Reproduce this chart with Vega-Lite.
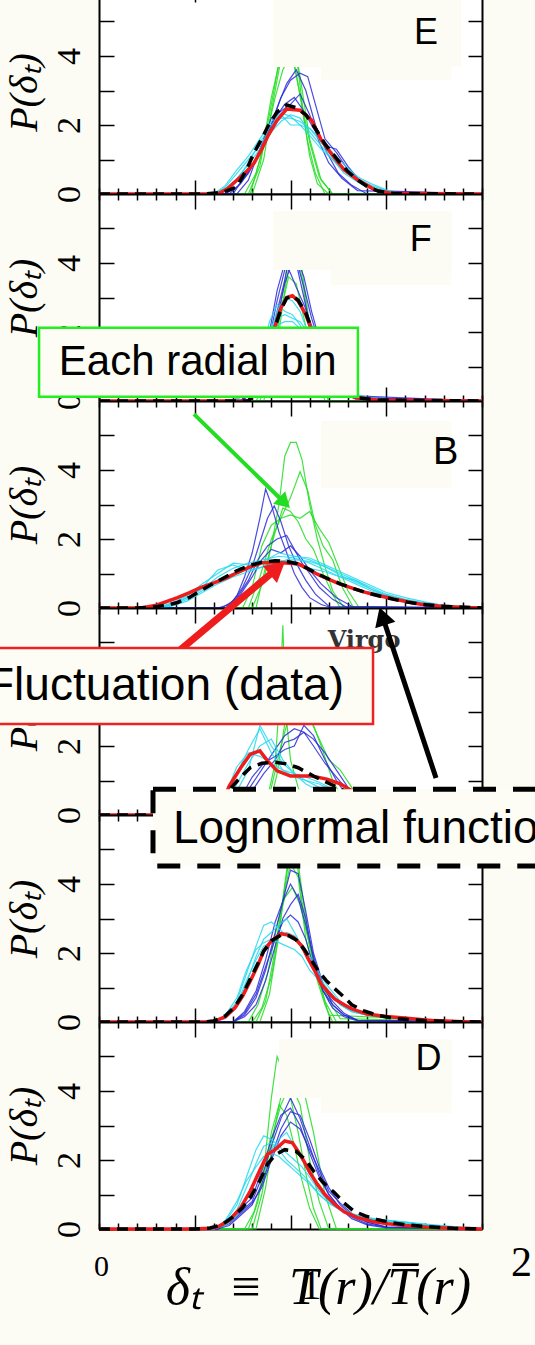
{
"$schema": "https://vega.github.io/schema/vega-lite/v6.json",
"background": "#fcfcf4",
"padding": {"left": -26, "top": -14, "right": 0, "bottom": 32},
"config": {
  "font": "Liberation Sans",
  "view": {"stroke": null, "fill": "#ffffff"},
  "axis": {"domainColor": "black", "domainWidth": 2, "tickColor": "black", "tickWidth": 1.5, "grid": false, "labelColor": "black", "titleColor": "black"}
},
"datasets": {
"curves": [
{"p":"E","k":"g","s":"g1","x":[0,0.78,0.84,0.88,0.92,0.95,0.98,1.01,1.04,1.07,1.1,1.14,1.2,2],"y":[0,0,0.8,2,3.2,4.2,4.8,4.6,3.6,2.2,1.1,0.3,0,0]},
{"p":"E","k":"g","s":"g2","x":[0,0.8,0.86,0.9,0.94,0.97,1,1.03,1.06,1.09,1.13,1.18,2],"y":[0,0,1,2.4,3.6,4.4,4.3,3.5,2.5,1.5,0.6,0,0]},
{"p":"E","k":"g","s":"g3","x":[0,0.76,0.82,0.87,0.92,0.96,0.99,1.02,1.06,1.1,1.15,1.22,2],"y":[0,0,0.6,1.6,2.8,3.6,3.9,3.7,2.6,1.5,0.5,0,0]},
{"p":"E","k":"g","s":"g4","x":[0,0.79,0.85,0.9,0.95,1,1.05,1.1,1.16,1.22,2],"y":[0,0,1.2,2.8,4,5,3.4,1.6,0.4,0,0]},
{"p":"E","k":"b","s":"b1","x":[0,0.66,0.72,0.78,0.84,0.9,0.95,1,1.05,1.09,1.13,1.18,1.24,1.3,1.38,1.46,2],"y":[0,0,0.2,0.6,1.2,2,2.8,3.3,3.5,3.4,2.6,1.6,1.2,0.7,0.3,0.05,0]},
{"p":"E","k":"b","s":"b2","x":[0,0.68,0.74,0.8,0.86,0.92,0.97,1.02,1.07,1.12,1.18,1.24,1.3,1.36,1.44,2],"y":[0,0,0.3,0.8,1.5,2.2,2.6,2.8,2.4,1.9,1.4,1.3,0.8,0.4,0.1,0]},
{"p":"E","k":"b","s":"b3","x":[0,0.7,0.76,0.82,0.88,0.93,0.98,1.03,1.08,1.13,1.19,1.25,1.32,1.4,2],"y":[0,0,0.5,1,1.7,2.5,3.2,3.6,3,2,1.2,0.6,0.25,0,0]},
{"p":"E","k":"b","s":"b4","x":[0,0.72,0.78,0.84,0.9,0.95,1,1.05,1.1,1.15,1.2,1.27,1.35,2],"y":[0,0,0.4,1.3,2.2,2.4,2.6,2.9,2.3,1.5,0.9,0.45,0.1,0]},
{"p":"E","k":"c","s":"c1","x":[0,0.6,0.66,0.72,0.78,0.84,0.9,0.95,1,1.05,1.1,1.16,1.22,1.28,1.35,1.42,1.5,1.58,2],"y":[0,0,0.2,0.6,1,1.4,1.9,2.2,2.2,2.1,1.9,1.5,1.1,0.75,0.45,0.25,0.1,0,0]},
{"p":"E","k":"c","s":"c2","x":[0,0.6,0.66,0.72,0.78,0.84,0.9,0.95,1,1.05,1.1,1.16,1.22,1.28,1.35,1.42,1.5,1.58,2],"y":[0,0,0.15,0.45,0.85,1.3,1.8,2.1,2.3,2.2,1.8,1.4,1,0.7,0.4,0.2,0.08,0,0]},
{"p":"E","k":"c","s":"c3","x":[0,0.6,0.66,0.72,0.78,0.84,0.9,0.95,1,1.05,1.1,1.16,1.22,1.28,1.35,1.42,1.5,1.58,2],"y":[0,0,0.25,0.7,1.1,1.6,2.1,2.35,2.25,2,1.7,1.3,1,0.6,0.35,0.15,0.05,0,0]},
{"p":"E","k":"c","s":"c4","x":[0,0.6,0.66,0.72,0.78,0.84,0.9,0.95,1,1.05,1.1,1.16,1.22,1.28,1.35,1.42,1.5,1.58,2],"y":[0,0,0.1,0.4,0.9,1.5,2,2.3,2,2,1.9,1.6,1.2,0.85,0.5,0.3,0.12,0,0]},
{"p":"E","k":"r","s":"r","x":[0,0.55,0.62,0.67,0.72,0.77,0.81,0.85,0.88,0.93,0.98,1.05,1.11,1.16,1.21,1.28,1.35,1.44,1.52,2],"y":[0,0,0,0.15,0.4,0.65,0.9,1.3,1.66,2.14,2.46,2.43,2.14,1.57,1.19,0.7,0.41,0.12,0.02,0]},
{"p":"E","k":"k","s":"k","x":[0,0.55,0.65,0.72,0.77,0.81,0.85,0.88,0.93,0.98,1.03,1.08,1.13,1.18,1.25,1.3,1.35,1.4,1.46,1.55,2],"y":[0,0,0.05,0.21,0.7,1.2,1.6,1.94,2.38,2.58,2.5,2.3,1.9,1.45,0.97,0.65,0.41,0.22,0.08,0.01,0]},

{"p":"F","k":"g","s":"g1","x":[0,0.84,0.88,0.92,0.95,0.98,1.01,1.04,1.07,1.1,1.14,1.18,2],"y":[0,0,0.6,1.6,2.8,3.8,4.4,4.2,3.2,2,0.8,0,0]},
{"p":"F","k":"g","s":"g2","x":[0,0.86,0.9,0.94,0.97,1,1.03,1.06,1.09,1.12,1.16,1.2,2],"y":[0,0,0.8,2,3.2,4.2,4.6,3.8,2.6,1.6,0.6,0,0]},
{"p":"F","k":"g","s":"g3","x":[0,0.82,0.87,0.91,0.95,0.99,1.03,1.07,1.11,1.15,1.2,2],"y":[0,0,0.5,1.4,2.6,3.6,3.4,2.4,1.4,0.6,0,0]},
{"p":"F","k":"b","s":"b1","x":[0,0.74,0.8,0.85,0.89,0.93,0.97,1,1.03,1.07,1.11,1.15,1.2,1.26,1.34,2],"y":[0,0,0.3,0.9,1.8,2.9,3.8,4.2,4,3,2,1.4,0.8,0.3,0.05,0]},
{"p":"F","k":"b","s":"b2","x":[0,0.74,0.8,0.85,0.89,0.93,0.97,1,1.03,1.07,1.11,1.15,1.2,1.26,1.34,2],"y":[0,0,0.2,0.7,1.5,2.4,3.4,3.9,4.2,3.6,2.6,1.8,1,0.4,0.1,0]},
{"p":"F","k":"b","s":"b3","x":[0,0.74,0.8,0.85,0.89,0.93,0.97,1,1.03,1.07,1.11,1.15,1.2,1.26,1.34,2],"y":[0,0,0.4,1.1,2,3.2,4,3.7,3.3,2.8,2.2,1.6,1,0.5,0.1,0]},
{"p":"F","k":"b","s":"b4","x":[0,0.74,0.8,0.85,0.89,0.93,0.97,1,1.03,1.07,1.11,1.15,1.2,1.26,1.34,2],"y":[0,0,0.25,0.8,1.6,2.6,3.5,4.4,4.1,3.3,2.4,1.7,1.2,0.6,0.15,0]},
{"p":"F","k":"c","s":"c1","x":[0,0.7,0.76,0.81,0.85,0.89,0.93,0.97,1.01,1.05,1.09,1.13,1.18,1.24,1.3,1.4,1.5,2],"y":[0,0,0.3,0.8,1.5,2.1,2.4,2.5,2.4,2.3,2,1.5,1,0.5,0.25,0.1,0.04,0]},
{"p":"F","k":"c","s":"c2","x":[0,0.7,0.76,0.81,0.85,0.89,0.93,0.97,1.01,1.05,1.09,1.13,1.18,1.24,1.3,1.4,1.5,2],"y":[0,0,0.2,0.7,1.3,2.3,2.8,2.6,2.5,2.2,1.8,1.3,0.8,0.45,0.2,0.08,0.03,0]},
{"p":"F","k":"c","s":"c3","x":[0,0.7,0.76,0.81,0.85,0.89,0.93,0.97,1.01,1.05,1.09,1.13,1.18,1.24,1.3,1.4,1.5,2],"y":[0,0,0.4,1,1.7,2,2.2,2.3,2.3,2.1,1.7,1.2,0.9,0.5,0.25,0.1,0.05,0]},
{"p":"F","k":"c","s":"c4","x":[0,0.7,0.76,0.81,0.85,0.89,0.93,0.97,1.01,1.05,1.09,1.13,1.18,1.24,1.3,1.4,1.5,2],"y":[0,0,0.15,0.6,1.2,1.9,2.6,3,2.9,2.6,2,1.4,0.9,0.4,0.2,0.08,0.02,0]},
{"p":"F","k":"r","s":"r","x":[0,0.78,0.83,0.87,0.91,0.95,0.98,1.01,1.04,1.08,1.12,1.16,1.2,1.26,1.34,1.45,2],"y":[0,0,0.3,1,2,2.7,3,3.05,2.9,2.5,1.9,1.2,0.6,0.25,0.1,0.03,0]},
{"p":"F","k":"k","s":"k","x":[0,0.78,0.83,0.87,0.91,0.95,0.98,1.01,1.04,1.08,1.12,1.16,1.2,1.26,1.34,1.45,2],"y":[0,0,0.35,1.05,2,2.65,2.98,3.05,2.92,2.55,1.95,1.25,0.65,0.28,0.1,0.03,0]},

{"p":"B","k":"g","s":"g1","x":[0,0.8,0.86,0.9,0.94,0.97,1,1.03,1.06,1.1,1.14,1.18,1.22,1.28,2],"y":[0,0,0.8,1.8,3,4.4,4.8,4.8,4.3,3,2,1.2,0.5,0,0]},
{"p":"B","k":"g","s":"g2","x":[0,0.78,0.84,0.9,0.95,1,1.05,1.09,1.13,1.17,1.22,1.27,1.33,2],"y":[0,0,0.9,2,2.6,3.2,3.95,3.4,2.4,1.8,1.4,0.6,0,0]},
{"p":"B","k":"g","s":"g3","x":[0,0.75,0.8,0.85,0.9,0.95,1,1.05,1.1,1.15,1.2,1.25,1.3,1.36,2],"y":[0,0,0.6,1.8,2.4,2.6,2.7,2.6,2.8,2.3,1.9,1.2,0.5,0,0]},
{"p":"B","k":"g","s":"g4","x":[0,0.82,0.87,0.92,0.96,1,1.04,1.08,1.12,1.17,1.22,1.26,2],"y":[0,0,1.2,2.2,2.9,2.8,2.5,2,1.7,1,0.4,0,0]},
{"p":"B","k":"b","s":"b1","x":[0,0.62,0.68,0.72,0.76,0.8,0.84,0.87,0.9,0.94,0.98,1.02,1.06,1.1,1.16,1.22,2],"y":[0,0,0.1,0.35,0.9,1.6,2.6,3.45,3,2.2,1.6,1,0.6,0.3,0.1,0,0]},
{"p":"B","k":"b","s":"b2","x":[0,0.64,0.7,0.75,0.8,0.84,0.88,0.915,0.95,0.99,1.03,1.08,1.13,1.2,2],"y":[0,0,0.2,0.6,1.2,1.9,2.6,2.96,2.5,1.8,1.3,0.8,0.4,0.05,0]},
{"p":"B","k":"b","s":"b3","x":[0,0.66,0.72,0.78,0.83,0.88,0.93,0.98,1.02,1.06,1.1,1.15,1.22,1.3,2],"y":[0,0,0.3,0.8,1.4,1.8,2,2.1,1.7,1.3,1,0.6,0.25,0,0]},
{"p":"B","k":"b","s":"b4","x":[0,0.68,0.74,0.8,0.85,0.9,0.95,1,1.05,1.1,1.16,1.24,1.32,2],"y":[0,0,0.4,0.9,1.4,1.7,1.6,1.8,1.5,1.1,0.7,0.3,0.05,0]},
{"p":"B","k":"c","s":"c1","x":[0,0.3,0.38,0.46,0.54,0.62,0.7,0.78,0.86,0.94,1.02,1.1,1.18,1.26,1.34,1.42,1.5,1.6,1.7,1.8,1.9,2],"y":[0,0,0.1,0.3,0.55,0.9,1.15,1.3,1.4,1.5,1.45,1.3,1.1,0.9,0.7,0.5,0.35,0.2,0.1,0.05,0,0]},
{"p":"B","k":"c","s":"c2","x":[0,0.3,0.38,0.46,0.54,0.62,0.7,0.78,0.86,0.94,1.02,1.1,1.18,1.26,1.34,1.42,1.5,1.6,1.7,1.8,1.9,2],"y":[0,0,0.15,0.35,0.7,1,1.3,1.25,1.35,1.6,1.5,1.4,1.2,0.95,0.75,0.55,0.35,0.22,0.12,0.05,0.02,0]},
{"p":"B","k":"c","s":"c3","x":[0,0.3,0.38,0.46,0.54,0.62,0.7,0.78,0.86,0.94,1.02,1.1,1.18,1.26,1.34,1.42,1.5,1.6,1.7,1.8,1.9,2],"y":[0,0,0.08,0.25,0.5,0.8,1,1.2,1.3,1.35,1.4,1.35,1.2,1,0.8,0.6,0.4,0.25,0.15,0.08,0.03,0]},
{"p":"B","k":"c","s":"c4","x":[0,0.3,0.38,0.46,0.54,0.62,0.7,0.78,0.86,0.94,1.02,1.1,1.18,1.26,1.34,1.42,1.5,1.6,1.7,1.8,1.9,2],"y":[0,0,0.12,0.3,0.6,1.1,1.25,1.1,1.2,1.4,1.25,1.15,1.05,0.9,0.8,0.55,0.38,0.24,0.12,0.06,0.02,0]},
{"p":"B","k":"c","s":"c5","x":[0,0.3,0.38,0.46,0.54,0.62,0.7,0.78,0.86,0.94,1.02,1.1,1.18,1.26,1.34,1.42,1.5,1.6,1.7,1.8,1.9,2],"y":[0,0,0.05,0.2,0.45,0.7,0.9,1.05,1.2,1.3,1.5,1.45,1.25,1.05,0.85,0.65,0.45,0.3,0.18,0.08,0.03,0]},
{"p":"B","k":"r","s":"r","x":[0,0.18,0.22,0.3,0.41,0.47,0.53,0.6,0.67,0.72,0.78,0.85,0.95,1.04,1.09,1.14,1.2,1.26,1.33,1.4,1.47,1.54,1.61,1.68,1.77,1.86,1.95,2],"y":[0,0,0,0.08,0.3,0.44,0.59,0.73,0.88,1.02,1.17,1.31,1.31,1.28,1.14,0.98,0.83,0.69,0.56,0.44,0.35,0.26,0.18,0.11,0.06,0.03,0.01,0]},
{"p":"B","k":"k","s":"k","x":[0,0.2,0.3,0.36,0.41,0.47,0.53,0.6,0.67,0.72,0.78,0.85,0.92,0.98,1.04,1.09,1.14,1.2,1.26,1.33,1.4,1.47,1.54,1.61,1.68,1.77,1.86,2],"y":[0,0,0.04,0.09,0.16,0.3,0.5,0.72,0.93,1.08,1.22,1.33,1.37,1.35,1.28,1.14,0.99,0.84,0.7,0.56,0.44,0.34,0.25,0.17,0.11,0.06,0.03,0]},

{"p":"V","k":"g","s":"g1","x":[0,0.84,0.88,0.92,0.945,0.96,0.975,1,1.04,1.08,1.13,2],"y":[0,0,0.5,1.5,3.5,5.5,3,1.6,0.8,0.3,0,0]},
{"p":"V","k":"g","s":"g2","x":[0,0.86,0.9,0.95,1,1.05,1.1,1.15,1.2,1.26,1.32,1.4,2],"y":[0,0,0.8,2,3,3.6,2.8,2.2,1.6,1.3,0.8,0.2,0]},
{"p":"V","k":"g","s":"g3","x":[0,0.88,0.93,0.98,1.03,1.08,1.12,1.16,1.22,1.3,2],"y":[0,0,1.2,3,4,3.2,2.6,2,1,0.2,0]},
{"p":"V","k":"b","s":"b1","x":[0,0.68,0.74,0.8,0.86,0.92,0.97,1.02,1.07,1.12,1.18,1.24,1.3,1.36,2],"y":[0,0,0.4,0.9,1.4,1.9,2.3,2.5,2.4,2,1.5,1.1,0.7,0.2,0]},
{"p":"V","k":"b","s":"b2","x":[0,0.68,0.74,0.8,0.86,0.92,0.97,1.02,1.07,1.12,1.18,1.24,1.3,1.36,2],"y":[0,0,0.3,0.7,1.2,1.6,2.1,2.2,2.4,2.2,1.8,1.3,0.8,0.3,0]},
{"p":"V","k":"b","s":"b3","x":[0,0.68,0.74,0.8,0.86,0.92,0.97,1.02,1.07,1.12,1.18,1.24,1.3,1.36,2],"y":[0,0,0.5,1.1,1.5,1.7,1.9,2,2.6,2.3,1.6,1,0.5,0.1,0]},
{"p":"V","k":"c","s":"c1","x":[0,0.6,0.66,0.72,0.78,0.84,0.9,0.96,1.02,1.08,1.15,1.22,1.3,1.4,2],"y":[0,0,0.5,1.2,1.9,2.5,1.8,1.3,1.1,1,0.9,0.7,0.4,0.1,0]},
{"p":"V","k":"c","s":"c2","x":[0,0.6,0.66,0.72,0.78,0.84,0.9,0.96,1.02,1.08,1.15,1.22,1.3,1.4,2],"y":[0,0,0.3,0.9,1.5,2,2.2,1.6,1.2,1,0.8,0.6,0.3,0.05,0]},
{"p":"V","k":"c","s":"c3","x":[0,0.6,0.66,0.72,0.78,0.84,0.9,0.96,1.02,1.08,1.15,1.22,1.3,1.4,2],"y":[0,0,0.6,1.4,1.8,1.7,1.5,1.3,1.2,1.1,0.95,0.75,0.45,0.15,0]},
{"p":"V","k":"c","s":"c4","x":[0,0.6,0.66,0.72,0.78,0.84,0.9,0.96,1.02,1.08,1.15,1.22,1.3,1.4,2],"y":[0,0,0.2,0.7,1.3,2.6,2,1.5,1.2,0.9,0.7,0.5,0.25,0.05,0]},
{"p":"V","k":"r","s":"r","x":[0,0.6,0.64,0.68,0.74,0.79,0.84,0.88,0.93,1,1.11,1.19,1.26,1.32,1.4,1.5,1.7,2],"y":[0,0,0.3,0.84,1.37,1.76,1.86,1.57,1.28,1.13,1.13,1.04,0.9,0.7,0.4,0.2,0.05,0]},
{"p":"V","k":"k","s":"k","x":[0,0.55,0.6,0.65,0.69,0.74,0.79,0.85,0.92,0.98,1.04,1.12,1.23,1.32,1.42,1.55,1.7,2],"y":[0,0,0.15,0.45,0.79,1.1,1.37,1.5,1.53,1.48,1.37,1.13,0.84,0.6,0.38,0.18,0.06,0]},

{"p":"C","k":"g","s":"g1","x":[0,0.8,0.85,0.9,0.94,0.97,1,1.03,1.06,1.1,1.14,1.18,1.22,2],"y":[0,0,0.4,1.3,2.6,4,5.2,4.8,3.5,2.2,1.2,0.5,0,0]},
{"p":"C","k":"g","s":"g2","x":[0,0.82,0.87,0.91,0.95,0.99,1.02,1.05,1.09,1.13,1.18,1.24,2],"y":[0,0,0.6,1.8,3.2,4.6,5.5,4.2,2.6,1.5,0.6,0,0]},
{"p":"C","k":"g","s":"g3","x":[0,0.78,0.83,0.88,0.93,0.97,1.01,1.05,1.1,1.15,1.2,1.26,2],"y":[0,0,0.5,1.4,2.8,3.6,3.9,3.4,2.2,1.3,0.6,0.1,0]},
{"p":"C","k":"g","s":"g4","x":[0,0.84,0.89,0.93,0.97,1,1.04,1.08,1.12,1.16,1.2,2],"y":[0,0,0.8,2.2,3.8,4.6,4.2,2.4,1.6,1,0.2,0]},
{"p":"C","k":"b","s":"b1","x":[0,0.7,0.76,0.82,0.87,0.92,0.96,1,1.04,1.08,1.12,1.17,1.22,1.28,1.35,2],"y":[0,0,0.2,0.7,1.5,2.6,3.5,4.4,4.3,3.2,2,1.1,0.5,0.2,0.05,0]},
{"p":"C","k":"b","s":"b2","x":[0,0.7,0.76,0.82,0.87,0.92,0.96,1,1.04,1.08,1.12,1.17,1.22,1.28,1.35,2],"y":[0,0,0.3,0.9,1.8,2.9,3.5,4,3.6,2.8,1.9,1,0.6,0.25,0.05,0]},
{"p":"C","k":"b","s":"b3","x":[0,0.7,0.76,0.82,0.87,0.92,0.96,1,1.04,1.08,1.12,1.17,1.22,1.28,1.35,2],"y":[0,0,0.15,0.5,1.2,2.2,3,3.4,3.7,3,1.8,0.9,0.4,0.15,0.03,0]},
{"p":"C","k":"b","s":"b4","x":[0,0.7,0.76,0.82,0.87,0.92,0.96,1,1.04,1.08,1.12,1.17,1.22,1.28,1.35,2],"y":[0,0,0.25,0.8,1.6,2.4,2.9,3.1,2.9,2.4,1.6,0.9,0.5,0.2,0.05,0]},
{"p":"C","k":"c","s":"c1","x":[0,0.6,0.66,0.72,0.77,0.82,0.86,0.9,0.94,0.98,1.02,1.06,1.1,1.15,1.2,1.26,1.32,1.4,1.5,1.6,1.75,2],"y":[0,0,0.15,0.6,1.4,2.2,2.8,2.9,2.7,2.5,2.4,2.2,1.7,1.2,0.8,0.5,0.3,0.2,0.15,0.1,0.04,0]},
{"p":"C","k":"c","s":"c2","x":[0,0.6,0.66,0.72,0.77,0.82,0.86,0.9,0.94,0.98,1.02,1.06,1.1,1.15,1.2,1.26,1.32,1.4,1.5,1.6,1.75,2],"y":[0,0,0.1,0.45,1.1,1.9,2.4,2.6,2.8,3,2.6,2.2,1.8,1.3,0.9,0.55,0.35,0.22,0.15,0.1,0.04,0]},
{"p":"C","k":"c","s":"c3","x":[0,0.6,0.66,0.72,0.77,0.82,0.86,0.9,0.94,0.98,1.02,1.06,1.1,1.15,1.2,1.26,1.32,1.4,1.5,1.6,1.75,2],"y":[0,0,0.2,0.7,1.5,2.1,2.3,2.4,2.3,2.2,2.1,1.9,1.5,1.2,0.85,0.5,0.3,0.2,0.12,0.08,0.03,0]},
{"p":"C","k":"c","s":"c4","x":[0,0.6,0.66,0.72,0.77,0.82,0.86,0.9,0.94,0.98,1.02,1.06,1.1,1.15,1.2,1.26,1.32,1.4,1.5,1.6,1.75,2],"y":[0,0,0.12,0.5,1.2,1.8,2.2,2.3,2.5,2.6,2.5,2.1,1.9,1.4,1,0.6,0.35,0.22,0.15,0.1,0.04,0]},
{"p":"C","k":"r","s":"r","x":[0,0.55,0.6,0.66,0.71,0.75,0.79,0.83,0.86,0.9,0.95,0.99,1.02,1.06,1.09,1.13,1.16,1.2,1.23,1.28,1.32,1.4,1.5,1.58,1.75,1.9,2],"y":[0,0,0.02,0.15,0.41,0.75,1.19,1.65,2.06,2.35,2.56,2.52,2.44,2.2,1.86,1.45,1.1,0.85,0.67,0.5,0.38,0.23,0.16,0.12,0.04,0.01,0]},
{"p":"C","k":"k","s":"k","x":[0,0.55,0.6,0.66,0.71,0.75,0.79,0.83,0.86,0.9,0.95,0.99,1.03,1.07,1.11,1.15,1.19,1.23,1.28,1.32,1.38,1.45,1.55,1.7,1.85,2],"y":[0,0,0.03,0.18,0.45,0.8,1.25,1.7,2.05,2.35,2.52,2.5,2.38,2.12,1.78,1.45,1.18,0.97,0.72,0.5,0.33,0.2,0.1,0.04,0.01,0]},

{"p":"D","k":"g","s":"g1","x":[0,0.78,0.83,0.87,0.9,0.93,0.96,1,1.04,1.08,1.12,1.16,2],"y":[0,0,0.8,2.2,3.8,5,4.6,3.8,2.8,1.6,0.6,0,0]},
{"p":"D","k":"g","s":"g2","x":[0,0.8,0.85,0.9,0.95,1,1.05,1.1,1.15,1.2,2],"y":[0,0,1,2.6,3.6,4.2,3.6,2,0.8,0,0]},
{"p":"D","k":"g","s":"g3","x":[0,0.82,0.87,0.92,0.97,1.02,1.07,1.12,1.18,1.24,2],"y":[0,0,1.2,3,4.4,4.8,4,2.8,1,0,0]},
{"p":"D","k":"g","s":"g4","x":[0,0.76,0.81,0.86,0.9,0.94,0.98,1.02,1.06,1.1,1.15,2],"y":[0,0,0.5,1.5,2.8,3.6,3.3,2.4,1.4,0.6,0,0]},
{"p":"D","k":"b","s":"b1","x":[0,0.62,0.68,0.74,0.8,0.85,0.9,0.95,1,1.05,1.1,1.15,1.2,1.26,1.32,1.4,1.5,2],"y":[0,0,0.2,0.5,0.8,1.5,2.4,3.2,3.8,3.2,2.4,1.6,1,0.6,0.35,0.15,0.05,0]},
{"p":"D","k":"b","s":"b2","x":[0,0.62,0.68,0.74,0.8,0.85,0.9,0.95,1,1.05,1.1,1.15,1.2,1.26,1.32,1.4,1.5,2],"y":[0,0,0.1,0.4,0.7,1.3,2.1,2.9,3.4,3.3,2.6,1.8,1.2,0.7,0.4,0.2,0.05,0]},
{"p":"D","k":"b","s":"b3","x":[0,0.62,0.68,0.74,0.8,0.85,0.9,0.95,1,1.05,1.1,1.15,1.2,1.26,1.32,1.4,1.5,2],"y":[0,0,0.3,0.6,0.9,1.7,2.6,3.3,3.5,3,2.2,1.5,1,0.6,0.3,0.12,0.03,0]},
{"p":"D","k":"b","s":"b4","x":[0,0.62,0.68,0.74,0.8,0.85,0.9,0.95,1,1.05,1.1,1.15,1.2,1.26,1.32,1.4,1.5,2],"y":[0,0,0.15,0.45,0.75,1.2,2,2.7,3.1,2.9,2.3,1.7,1.1,0.75,0.45,0.2,0.06,0]},
{"p":"D","k":"c","s":"c1","x":[0,0.6,0.66,0.72,0.77,0.82,0.86,0.9,0.94,0.98,1.02,1.06,1.1,1.15,1.2,1.26,1.32,1.4,1.5,1.6,1.75,1.9,2],"y":[0,0,0.2,0.7,1.5,2.3,2.7,2.6,2.4,2.2,2,1.8,1.5,1.1,0.8,0.55,0.4,0.3,0.25,0.2,0.12,0.05,0]},
{"p":"D","k":"c","s":"c2","x":[0,0.6,0.66,0.72,0.77,0.82,0.86,0.9,0.94,0.98,1.02,1.06,1.1,1.15,1.2,1.26,1.32,1.4,1.5,1.6,1.75,1.9,2],"y":[0,0,0.15,0.55,1.2,1.9,2.4,2.5,2.3,2,1.8,1.6,1.35,1,0.75,0.55,0.42,0.32,0.26,0.2,0.1,0.04,0]},
{"p":"D","k":"c","s":"c3","x":[0,0.6,0.66,0.72,0.77,0.82,0.86,0.9,0.94,0.98,1.02,1.06,1.1,1.15,1.2,1.26,1.32,1.4,1.5,1.6,1.75,1.9,2],"y":[0,0,0.1,0.4,0.9,1.5,2,2.3,2.6,2.8,2.4,2,1.6,1.2,0.85,0.6,0.45,0.33,0.25,0.18,0.1,0.04,0]},
{"p":"D","k":"c","s":"c4","x":[0,0.6,0.66,0.72,0.77,0.82,0.86,0.9,0.94,0.98,1.02,1.06,1.1,1.15,1.2,1.26,1.32,1.4,1.5,1.6,1.75,1.9,2],"y":[0,0,0.25,0.8,1.4,1.8,2.1,2.2,2.1,1.9,1.7,1.5,1.3,1,0.75,0.55,0.4,0.3,0.22,0.16,0.08,0.03,0]},
{"p":"D","k":"r","s":"r","x":[0,0.5,0.58,0.62,0.68,0.74,0.79,0.84,0.88,0.92,0.97,1.01,1.04,1.07,1.1,1.14,1.18,1.23,1.28,1.35,1.43,1.51,1.6,1.72,1.85,2],"y":[0,0,0.02,0.06,0.25,0.62,1.1,1.7,2.17,2.3,2.55,2.5,2.25,1.97,1.65,1.3,1,0.72,0.5,0.33,0.22,0.15,0.1,0.05,0.02,0]},
{"p":"D","k":"k","s":"k","x":[0,0.5,0.58,0.64,0.7,0.75,0.79,0.84,0.88,0.92,0.97,1.03,1.08,1.12,1.17,1.23,1.28,1.33,1.39,1.45,1.52,1.59,1.7,1.85,2],"y":[0,0,0.03,0.12,0.35,0.62,0.92,1.4,1.88,2.15,2.3,2.25,2,1.68,1.35,1.05,0.75,0.52,0.38,0.28,0.19,0.13,0.07,0.02,0]}
]
},
"vconcat": [
{
  "width": 383, "height": 207,
  "layer": [
    {"data": {"name": "curves"}, "transform": [{"filter": "datum.p == 'E' && (datum.k == 'g' || datum.k == 'b' || datum.k == 'c')"}, {"flatten": ["x", "y"]}],
     "mark": {"type": "line", "strokeWidth": 1.2, "opacity": 0.85},
     "encoding": {
       "x": {"field": "x", "type": "quantitative", "scale": {"domain": [0, 2], "nice": false, "zero": false},
             "axis": {"orient": "bottom", "values": [0,0.1,0.2,0.3,0.4,0.5,0.6,0.7,0.8,0.9,1,1.1,1.2,1.3,1.4,1.5,1.6,1.7,1.8,1.9,2], "labels": false, "title": null, "tickSize": {"condition": {"test": "datum.value == 0.5 || datum.value == 1 || datum.value == 1.5", "value": -14}, "value": -6}}},
       "y": {"field": "y", "type": "quantitative", "scale": {"domain": [0, 6], "nice": false, "zero": false},
             "axis": {"orient": "left", "values": [0,1,2,3,4,5], "tickSize": -15, "labelExpr": "datum.value == 0 ? '0' : datum.value == 2 ? '2' : datum.value == 4 ? '4' : ''", "labelAngle": 270, "labelAlign": "center", "labelBaseline": "bottom", "labelFont": "Liberation Serif", "labelFontSize": 34, "labelPadding": 28, "labelOverlap": false, "title": "P(δₜ)", "titleFont": "Liberation Serif", "titleFontStyle": "italic", "titleFontWeight": "normal", "titleFontSize": 40, "titleX": -55, "titleY": 105}},
       "detail": {"field": "s"},
       "color": {"field": "k", "type": "nominal", "scale": {"domain": ["g", "b", "c"], "range": ["#22dd22", "#2a2ad8", "#22d8ee"]}, "legend": null}
     }},
    {"data": {"name": "curves"}, "transform": [{"filter": "datum.p == 'E' && datum.k == 'r'"}, {"flatten": ["x", "y"]}],
     "mark": {"type": "line", "strokeWidth": 3.5, "color": "#ee1c1c"},
     "encoding": {
       "x": {"field": "x", "type": "quantitative", "axis": {"orient": "top", "values": [0,0.1,0.2,0.3,0.4,0.5,0.6,0.7,0.8,0.9,1,1.1,1.2,1.3,1.4,1.5,1.6,1.7,1.8,1.9,2], "labels": false, "title": null, "tickSize": {"condition": {"test": "datum.value == 0.5 || datum.value == 1 || datum.value == 1.5", "value": -15}, "value": -6}}},
       "y": {"field": "y", "type": "quantitative", "axis": {"orient": "right", "values": [0,1,2,3,4,5], "tickSize": -14, "labels": false, "title": null}}
     }},
    {"data": {"name": "curves"}, "transform": [{"filter": "datum.p == 'E' && datum.k == 'k'"}, {"flatten": ["x", "y"]}],
     "mark": {"type": "line", "strokeWidth": 3.5, "color": "#000000", "strokeDash": [11, 7]},
     "encoding": {"x": {"field": "x", "type": "quantitative", "axis": null}, "y": {"field": "y", "type": "quantitative", "axis": null}}},
    {"data": {"values": [{"x": 0.91, "x2": 1.89, "y": 3.68, "y2": 6}, {"x": 1.16, "x2": 1.84, "y": 3.3, "y2": 6}]},
     "mark": {"type": "rect", "fill": "#fcfcf4"},
     "encoding": {"x": {"field": "x", "type": "quantitative", "axis": null}, "x2": {"field": "x2"}, "y": {"field": "y", "type": "quantitative", "axis": null}, "y2": {"field": "y2"}}},
    {"data": {"values": [{"x": 1.708, "y": 4.67, "t": "E"}]},
     "mark": {"type": "text", "fontSize": 36, "font": "Liberation Sans", "color": "black", "align": "center", "baseline": "middle"},
     "encoding": {"x": {"field": "x", "type": "quantitative", "axis": null}, "y": {"field": "y", "type": "quantitative", "axis": null}, "text": {"field": "t"}}}
  ],
  "resolve": {"axis": {"x": "independent", "y": "independent"}}
},
{
  "width": 383, "height": 207,
  "layer": [
    {"data": {"name": "curves"}, "transform": [{"filter": "datum.p == 'F' && (datum.k == 'g' || datum.k == 'b' || datum.k == 'c')"}, {"flatten": ["x", "y"]}],
     "mark": {"type": "line", "strokeWidth": 1.2, "opacity": 0.85},
     "encoding": {
       "x": {"field": "x", "type": "quantitative", "scale": {"domain": [0, 2], "nice": false, "zero": false},
             "axis": {"orient": "bottom", "values": [0,0.1,0.2,0.3,0.4,0.5,0.6,0.7,0.8,0.9,1,1.1,1.2,1.3,1.4,1.5,1.6,1.7,1.8,1.9,2], "labels": false, "title": null, "tickSize": {"condition": {"test": "datum.value == 0.5 || datum.value == 1 || datum.value == 1.5", "value": -14}, "value": -6}}},
       "y": {"field": "y", "type": "quantitative", "scale": {"domain": [0, 6], "nice": false, "zero": false},
             "axis": {"orient": "left", "values": [0,1,2,3,4,5], "tickSize": -15, "labelExpr": "datum.value == 0 ? '0' : datum.value == 2 ? '2' : datum.value == 4 ? '4' : ''", "labelAngle": 270, "labelAlign": "center", "labelBaseline": "bottom", "labelFont": "Liberation Serif", "labelFontSize": 34, "labelPadding": 28, "labelOverlap": false, "title": "P(δₜ)", "titleFont": "Liberation Serif", "titleFontStyle": "italic", "titleFontWeight": "normal", "titleFontSize": 40, "titleX": -55}},
       "detail": {"field": "s"},
       "color": {"field": "k", "type": "nominal", "scale": {"domain": ["g", "b", "c"], "range": ["#22dd22", "#2a2ad8", "#22d8ee"]}, "legend": null}
     }},
    {"data": {"name": "curves"}, "transform": [{"filter": "datum.p == 'F' && datum.k == 'r'"}, {"flatten": ["x", "y"]}],
     "mark": {"type": "line", "strokeWidth": 3.5, "color": "#ee1c1c"},
     "encoding": {
       "x": {"field": "x", "type": "quantitative", "axis": {"orient": "top", "values": [0,0.1,0.2,0.3,0.4,0.5,0.6,0.7,0.8,0.9,1,1.1,1.2,1.3,1.4,1.5,1.6,1.7,1.8,1.9,2], "labels": false, "title": null, "tickSize": {"condition": {"test": "datum.value == 0.5 || datum.value == 1 || datum.value == 1.5", "value": -15}, "value": -6}}},
       "y": {"field": "y", "type": "quantitative", "axis": {"orient": "right", "values": [0,1,2,3,4,5], "tickSize": -14, "labels": false, "title": null}}
     }},
    {"data": {"name": "curves"}, "transform": [{"filter": "datum.p == 'F' && datum.k == 'k'"}, {"flatten": ["x", "y"]}],
     "mark": {"type": "line", "strokeWidth": 3.5, "color": "#000000", "strokeDash": [11, 7]},
     "encoding": {"x": {"field": "x", "type": "quantitative", "axis": null}, "y": {"field": "y", "type": "quantitative", "axis": null}}},
    {"data": {"values": [{"x": 0.91, "x2": 1.84, "y": 3.8, "y2": 5.5}, {"x": 1.21, "x2": 1.84, "y": 3.36, "y2": 5.5}]},
     "mark": {"type": "rect", "fill": "#fcfcf4"},
     "encoding": {"x": {"field": "x", "type": "quantitative", "axis": null}, "x2": {"field": "x2"}, "y": {"field": "y", "type": "quantitative", "axis": null}, "y2": {"field": "y2"}}},
    {"data": {"values": [{"x": 1.68, "y": 4.67, "t": "F"}]},
     "mark": {"type": "text", "fontSize": 36, "font": "Liberation Sans", "color": "black", "align": "center", "baseline": "middle"},
     "encoding": {"x": {"field": "x", "type": "quantitative", "axis": null}, "y": {"field": "y", "type": "quantitative", "axis": null}, "text": {"field": "t"}}},
    {"data": {"values": [{"x": -0.313, "x2": 1.352, "y": 0.12, "y2": 2.12}]},
     "mark": {"type": "rect", "fill": "#fdfdf5", "stroke": "#22ee22", "strokeWidth": 2.5},
     "encoding": {"x": {"field": "x", "type": "quantitative", "axis": null}, "x2": {"field": "x2"}, "y": {"field": "y", "type": "quantitative", "axis": null}, "y2": {"field": "y2"}}},
    {"data": {"values": [{"x": -0.21, "y": 1.13, "t": "Each radial bin"}]},
     "mark": {"type": "text", "fontSize": 42, "font": "Liberation Sans", "color": "black", "align": "left", "baseline": "middle"},
     "encoding": {"x": {"field": "x", "type": "quantitative", "axis": null}, "y": {"field": "y", "type": "quantitative", "axis": null}, "text": {"field": "t"}}}
  ],
  "resolve": {"axis": {"x": "independent", "y": "independent"}}
},
{
  "width": 383, "height": 207,
  "layer": [
    {"data": {"name": "curves"}, "transform": [{"filter": "datum.p == 'B' && (datum.k == 'g' || datum.k == 'b' || datum.k == 'c')"}, {"flatten": ["x", "y"]}],
     "mark": {"type": "line", "strokeWidth": 1.2, "opacity": 0.85},
     "encoding": {
       "x": {"field": "x", "type": "quantitative", "scale": {"domain": [0, 2], "nice": false, "zero": false},
             "axis": {"orient": "bottom", "values": [0,0.1,0.2,0.3,0.4,0.5,0.6,0.7,0.8,0.9,1,1.1,1.2,1.3,1.4,1.5,1.6,1.7,1.8,1.9,2], "labels": false, "title": null, "tickSize": {"condition": {"test": "datum.value == 0.5 || datum.value == 1 || datum.value == 1.5", "value": -14}, "value": -6}}},
       "y": {"field": "y", "type": "quantitative", "scale": {"domain": [0, 6], "nice": false, "zero": false},
             "axis": {"orient": "left", "values": [0,1,2,3,4,5], "tickSize": -15, "labelExpr": "datum.value == 0 ? '0' : datum.value == 2 ? '2' : datum.value == 4 ? '4' : ''", "labelAngle": 270, "labelAlign": "center", "labelBaseline": "bottom", "labelFont": "Liberation Serif", "labelFontSize": 34, "labelPadding": 28, "labelOverlap": false, "title": "P(δₜ)", "titleFont": "Liberation Serif", "titleFontStyle": "italic", "titleFontWeight": "normal", "titleFontSize": 40, "titleX": -55}},
       "detail": {"field": "s"},
       "color": {"field": "k", "type": "nominal", "scale": {"domain": ["g", "b", "c"], "range": ["#22dd22", "#2a2ad8", "#22d8ee"]}, "legend": null}
     }},
    {"data": {"name": "curves"}, "transform": [{"filter": "datum.p == 'B' && datum.k == 'r'"}, {"flatten": ["x", "y"]}],
     "mark": {"type": "line", "strokeWidth": 3.5, "color": "#ee1c1c"},
     "encoding": {
       "x": {"field": "x", "type": "quantitative", "axis": {"orient": "top", "values": [0,0.1,0.2,0.3,0.4,0.5,0.6,0.7,0.8,0.9,1,1.1,1.2,1.3,1.4,1.5,1.6,1.7,1.8,1.9,2], "labels": false, "title": null, "tickSize": {"condition": {"test": "datum.value == 0.5 || datum.value == 1 || datum.value == 1.5", "value": -15}, "value": -6}}},
       "y": {"field": "y", "type": "quantitative", "axis": {"orient": "right", "values": [0,1,2,3,4,5], "tickSize": -14, "labels": false, "title": null}}
     }},
    {"data": {"name": "curves"}, "transform": [{"filter": "datum.p == 'B' && datum.k == 'k'"}, {"flatten": ["x", "y"]}],
     "mark": {"type": "line", "strokeWidth": 3.5, "color": "#000000", "strokeDash": [11, 7]},
     "encoding": {"x": {"field": "x", "type": "quantitative", "axis": null}, "y": {"field": "y", "type": "quantitative", "axis": null}}},
    {"data": {"values": [{"x": 1.16, "x2": 1.84, "y": 3.48, "y2": 5.42}]},
     "mark": {"type": "rect", "fill": "#fcfcf4"},
     "encoding": {"x": {"field": "x", "type": "quantitative", "axis": null}, "x2": {"field": "x2"}, "y": {"field": "y", "type": "quantitative", "axis": null}, "y2": {"field": "y2"}}},
    {"data": {"values": [{"x": 1.81, "y": 4.49, "t": "B"}]},
     "mark": {"type": "text", "fontSize": 38, "font": "Liberation Sans", "color": "black", "align": "center", "baseline": "middle"},
     "encoding": {"x": {"field": "x", "type": "quantitative", "axis": null}, "y": {"field": "y", "type": "quantitative", "axis": null}, "text": {"field": "t"}}},
    {"data": {"values": [{"x": 0.496, "y": 5.62, "x2": 0.969, "y2": 3.05}]},
     "mark": {"type": "rule", "color": "#22dd22", "strokeWidth": 4},
     "encoding": {"x": {"field": "x", "type": "quantitative", "axis": null}, "x2": {"field": "x2"}, "y": {"field": "y", "type": "quantitative", "axis": null}, "y2": {"field": "y2"}}},
    {"data": {"values": [{"x": 0.969, "y": 3.05}]},
     "mark": {"type": "point", "shape": "triangle-up", "filled": true, "color": "#22dd22", "opacity": 1, "size": 300, "angle": 134.4},
     "encoding": {"x": {"field": "x", "type": "quantitative", "axis": null}, "y": {"field": "y", "type": "quantitative", "axis": null}}}
  ],
  "resolve": {"axis": {"x": "independent", "y": "independent"}}
},
{
  "width": 383, "height": 207,
  "layer": [
    {"data": {"name": "curves"}, "transform": [{"filter": "datum.p == 'V' && (datum.k == 'g' || datum.k == 'b' || datum.k == 'c')"}, {"flatten": ["x", "y"]}],
     "mark": {"type": "line", "strokeWidth": 1.2, "opacity": 0.85},
     "encoding": {
       "x": {"field": "x", "type": "quantitative", "scale": {"domain": [0, 2], "nice": false, "zero": false},
             "axis": {"orient": "bottom", "values": [0,0.1,0.2,0.3,0.4,0.5,0.6,0.7,0.8,0.9,1,1.1,1.2,1.3,1.4,1.5,1.6,1.7,1.8,1.9,2], "labels": false, "title": null, "tickSize": {"condition": {"test": "datum.value == 0.5 || datum.value == 1 || datum.value == 1.5", "value": -14}, "value": -6}}},
       "y": {"field": "y", "type": "quantitative", "scale": {"domain": [0, 6], "nice": false, "zero": false},
             "axis": {"orient": "left", "values": [0,1,2,3,4,5], "tickSize": -15, "labelExpr": "datum.value == 0 ? '0' : datum.value == 2 ? '2' : datum.value == 4 ? '4' : ''", "labelAngle": 270, "labelAlign": "center", "labelBaseline": "bottom", "labelFont": "Liberation Serif", "labelFontSize": 34, "labelPadding": 28, "labelOverlap": false, "title": "P(δₜ)", "titleFont": "Liberation Serif", "titleFontStyle": "italic", "titleFontWeight": "normal", "titleFontSize": 40, "titleX": -55}},
       "detail": {"field": "s"},
       "color": {"field": "k", "type": "nominal", "scale": {"domain": ["g", "b", "c"], "range": ["#22dd22", "#2a2ad8", "#22d8ee"]}, "legend": null}
     }},
    {"data": {"name": "curves"}, "transform": [{"filter": "datum.p == 'V' && datum.k == 'r'"}, {"flatten": ["x", "y"]}],
     "mark": {"type": "line", "strokeWidth": 3.5, "color": "#ee1c1c"},
     "encoding": {
       "x": {"field": "x", "type": "quantitative", "axis": {"orient": "top", "values": [0,0.1,0.2,0.3,0.4,0.5,0.6,0.7,0.8,0.9,1,1.1,1.2,1.3,1.4,1.5,1.6,1.7,1.8,1.9,2], "labels": false, "title": null, "tickSize": {"condition": {"test": "datum.value == 0.5 || datum.value == 1 || datum.value == 1.5", "value": -15}, "value": -6}}},
       "y": {"field": "y", "type": "quantitative", "axis": {"orient": "right", "values": [0,1,2,3,4,5], "tickSize": -14, "labels": false, "title": null}}
     }},
    {"data": {"name": "curves"}, "transform": [{"filter": "datum.p == 'V' && datum.k == 'k'"}, {"flatten": ["x", "y"]}],
     "mark": {"type": "line", "strokeWidth": 3.5, "color": "#000000", "strokeDash": [11, 7]},
     "encoding": {"x": {"field": "x", "type": "quantitative", "axis": null}, "y": {"field": "y", "type": "quantitative", "axis": null}}},
    {"data": {"values": [{"x": 1.384, "y": 5.04, "t": "Virgo"}]},
     "mark": {"type": "text", "fontSize": 24, "font": "DejaVu Serif", "fontWeight": "bold", "color": "#333333", "align": "center", "baseline": "middle"},
     "encoding": {"x": {"field": "x", "type": "quantitative", "axis": null}, "y": {"field": "y", "type": "quantitative", "axis": null}, "text": {"field": "t"}}},
    {"data": {"values": [{"x": 0.324, "y": 4.32, "x2": 0.931, "y2": 7.15}]},
     "mark": {"type": "rule", "color": "#ee1c1c", "strokeWidth": 7},
     "encoding": {"x": {"field": "x", "type": "quantitative", "axis": null}, "x2": {"field": "x2"}, "y": {"field": "y", "type": "quantitative", "axis": null}, "y2": {"field": "y2"}}},
    {"data": {"values": [{"x": 0.931, "y": 7.15}]},
     "mark": {"type": "point", "shape": "triangle-up", "filled": true, "color": "#ee1c1c", "opacity": 1, "size": 500, "angle": 50.4},
     "encoding": {"x": {"field": "x", "type": "quantitative", "axis": null}, "y": {"field": "y", "type": "quantitative", "axis": null}}},
    {"data": {"values": [{"x": -0.642, "x2": 1.431, "y": 2.64, "y2": 4.84}]},
     "mark": {"type": "rect", "fill": "#fdfdf5", "stroke": "#ee2222", "strokeWidth": 2.5},
     "encoding": {"x": {"field": "x", "type": "quantitative", "axis": null}, "x2": {"field": "x2"}, "y": {"field": "y", "type": "quantitative", "axis": null}, "y2": {"field": "y2"}}},
    {"data": {"values": [{"x": -0.59, "y": 3.74, "t": "Fluctuation (data)"}]},
     "mark": {"type": "text", "fontSize": 46, "font": "Liberation Sans", "color": "black", "align": "left", "baseline": "middle"},
     "encoding": {"x": {"field": "x", "type": "quantitative", "axis": null}, "y": {"field": "y", "type": "quantitative", "axis": null}, "text": {"field": "t"}}},
    {"data": {"values": [{"x": 1.76, "y": 1.07, "x2": 1.48, "y2": 5.76}]},
     "mark": {"type": "rule", "color": "#000000", "strokeWidth": 5},
     "encoding": {"x": {"field": "x", "type": "quantitative", "axis": null}, "x2": {"field": "x2"}, "y": {"field": "y", "type": "quantitative", "axis": null}, "y2": {"field": "y2"}}},
    {"data": {"values": [{"x": 1.48, "y": 5.76}]},
     "mark": {"type": "point", "shape": "triangle-up", "filled": true, "color": "#000000", "opacity": 1, "size": 450, "angle": 341.7},
     "encoding": {"x": {"field": "x", "type": "quantitative", "axis": null}, "y": {"field": "y", "type": "quantitative", "axis": null}}}
  ],
  "resolve": {"axis": {"x": "independent", "y": "independent"}}
},
{
  "width": 383, "height": 207,
  "layer": [
    {"data": {"name": "curves"}, "transform": [{"filter": "datum.p == 'C' && (datum.k == 'g' || datum.k == 'b' || datum.k == 'c')"}, {"flatten": ["x", "y"]}],
     "mark": {"type": "line", "strokeWidth": 1.2, "opacity": 0.85},
     "encoding": {
       "x": {"field": "x", "type": "quantitative", "scale": {"domain": [0, 2], "nice": false, "zero": false},
             "axis": {"orient": "bottom", "values": [0,0.1,0.2,0.3,0.4,0.5,0.6,0.7,0.8,0.9,1,1.1,1.2,1.3,1.4,1.5,1.6,1.7,1.8,1.9,2], "labels": false, "title": null, "tickSize": {"condition": {"test": "datum.value == 0.5 || datum.value == 1 || datum.value == 1.5", "value": -14}, "value": -6}}},
       "y": {"field": "y", "type": "quantitative", "scale": {"domain": [0, 6], "nice": false, "zero": false},
             "axis": {"orient": "left", "values": [0,1,2,3,4,5], "tickSize": -15, "labelExpr": "datum.value == 0 ? '0' : datum.value == 2 ? '2' : datum.value == 4 ? '4' : ''", "labelAngle": 270, "labelAlign": "center", "labelBaseline": "bottom", "labelFont": "Liberation Serif", "labelFontSize": 34, "labelPadding": 28, "labelOverlap": false, "title": "P(δₜ)", "titleFont": "Liberation Serif", "titleFontStyle": "italic", "titleFontWeight": "normal", "titleFontSize": 40, "titleX": -55}},
       "detail": {"field": "s"},
       "color": {"field": "k", "type": "nominal", "scale": {"domain": ["g", "b", "c"], "range": ["#22dd22", "#2a2ad8", "#22d8ee"]}, "legend": null}
     }},
    {"data": {"name": "curves"}, "transform": [{"filter": "datum.p == 'C' && datum.k == 'r'"}, {"flatten": ["x", "y"]}],
     "mark": {"type": "line", "strokeWidth": 3.5, "color": "#ee1c1c"},
     "encoding": {
       "x": {"field": "x", "type": "quantitative", "axis": {"orient": "top", "values": [0,0.1,0.2,0.3,0.4,0.5,0.6,0.7,0.8,0.9,1,1.1,1.2,1.3,1.4,1.5,1.6,1.7,1.8,1.9,2], "labels": false, "title": null, "tickSize": {"condition": {"test": "datum.value == 0.5 || datum.value == 1 || datum.value == 1.5", "value": -15}, "value": -6}}},
       "y": {"field": "y", "type": "quantitative", "axis": {"orient": "right", "values": [0,1,2,3,4,5], "tickSize": -14, "labels": false, "title": null}}
     }},
    {"data": {"name": "curves"}, "transform": [{"filter": "datum.p == 'C' && datum.k == 'k'"}, {"flatten": ["x", "y"]}],
     "mark": {"type": "line", "strokeWidth": 3.5, "color": "#000000", "strokeDash": [11, 7]},
     "encoding": {"x": {"field": "x", "type": "quantitative", "axis": null}, "y": {"field": "y", "type": "quantitative", "axis": null}}},
    {"data": {"values": [{"x": 0.282, "x2": 2.45, "y": 4.52, "y2": 6.75}]},
     "mark": {"type": "rect", "fill": "#fdfdf5", "stroke": "#000000", "strokeWidth": 5, "strokeDash": [23, 17]},
     "encoding": {"x": {"field": "x", "type": "quantitative", "axis": null}, "x2": {"field": "x2"}, "y": {"field": "y", "type": "quantitative", "axis": null}, "y2": {"field": "y2"}}},
    {"data": {"values": [{"x": 0.386, "y": 5.59, "t": "Lognormal function"}]},
     "mark": {"type": "text", "fontSize": 46, "font": "Liberation Sans", "color": "black", "align": "left", "baseline": "middle"},
     "encoding": {"x": {"field": "x", "type": "quantitative", "axis": null}, "y": {"field": "y", "type": "quantitative", "axis": null}, "text": {"field": "t"}}}
  ],
  "resolve": {"axis": {"x": "independent", "y": "independent"}}
},
{
  "width": 383, "height": 207,
  "layer": [
    {"data": {"name": "curves"}, "transform": [{"filter": "datum.p == 'D' && (datum.k == 'g' || datum.k == 'b' || datum.k == 'c')"}, {"flatten": ["x", "y"]}],
     "mark": {"type": "line", "strokeWidth": 1.2, "opacity": 0.85},
     "encoding": {
       "x": {"field": "x", "type": "quantitative", "scale": {"domain": [0, 2], "nice": false, "zero": false},
             "axis": {"orient": "bottom", "values": [0,0.1,0.2,0.3,0.4,0.5,0.6,0.7,0.8,0.9,1,1.1,1.2,1.3,1.4,1.5,1.6,1.7,1.8,1.9,2],
                      "tickSize": {"condition": {"test": "datum.value == 0.5 || datum.value == 1 || datum.value == 1.5", "value": -14}, "value": -6},
                      "labelExpr": "datum.value == 0 ? '0' : datum.value == 1 ? '1' : datum.value == 2 ? '2' : ''",
                      "labelFont": "Liberation Serif", "labelFontSize": {"condition": {"test": "datum.value == 0", "value": 30}, "value": 42},
                      "labelBaseline": "alphabetic", "labelAlign": "center", "labelFlush": false, "labelOverlap": false,
                      "labelPadding": {"condition": {"test": "datum.value == 1", "value": 83}, "value": 52},
                      "labelOffset": {"condition": [{"test": "datum.value == 1", "value": 20}, {"test": "datum.value == 2", "value": 39}], "value": 2},
                      "title": "δₜ\u2002≡\u2002T(r)/T\u0305(r)", "titleFont": "Liberation Serif", "titleFontStyle": "italic", "titleFontWeight": "normal", "titleFontSize": 52,
                      "titleX": 219, "titleY": 74, "titleBaseline": "alphabetic", "titleAlign": "center"}},
       "y": {"field": "y", "type": "quantitative", "scale": {"domain": [0, 6], "nice": false, "zero": false},
             "axis": {"orient": "left", "values": [0,1,2,3,4,5], "tickSize": -15, "labelExpr": "datum.value == 0 ? '0' : datum.value == 2 ? '2' : datum.value == 4 ? '4' : ''", "labelAngle": 270, "labelAlign": "center", "labelBaseline": "bottom", "labelFont": "Liberation Serif", "labelFontSize": 34, "labelPadding": 28, "labelOverlap": false, "title": "P(δₜ)", "titleFont": "Liberation Serif", "titleFontStyle": "italic", "titleFontWeight": "normal", "titleFontSize": 40, "titleX": -55}},
       "detail": {"field": "s"},
       "color": {"field": "k", "type": "nominal", "scale": {"domain": ["g", "b", "c"], "range": ["#22dd22", "#2a2ad8", "#22d8ee"]}, "legend": null}
     }},
    {"data": {"name": "curves"}, "transform": [{"filter": "datum.p == 'D' && datum.k == 'r'"}, {"flatten": ["x", "y"]}],
     "mark": {"type": "line", "strokeWidth": 3.5, "color": "#ee1c1c"},
     "encoding": {
       "x": {"field": "x", "type": "quantitative", "axis": {"orient": "top", "values": [0,0.1,0.2,0.3,0.4,0.5,0.6,0.7,0.8,0.9,1,1.1,1.2,1.3,1.4,1.5,1.6,1.7,1.8,1.9,2], "labels": false, "title": null, "tickSize": {"condition": {"test": "datum.value == 0.5 || datum.value == 1 || datum.value == 1.5", "value": -15}, "value": -6}}},
       "y": {"field": "y", "type": "quantitative", "axis": {"orient": "right", "values": [0,1,2,3,4,5], "tickSize": -14, "labels": false, "title": null}}
     }},
    {"data": {"name": "curves"}, "transform": [{"filter": "datum.p == 'D' && datum.k == 'k'"}, {"flatten": ["x", "y"]}],
     "mark": {"type": "line", "strokeWidth": 3.5, "color": "#000000", "strokeDash": [11, 7]},
     "encoding": {"x": {"field": "x", "type": "quantitative", "axis": null}, "y": {"field": "y", "type": "quantitative", "axis": null}}},
    {"data": {"values": [{"x": 0.94, "x2": 1.84, "y": 3.8, "y2": 5.5}, {"x": 1.16, "x2": 1.84, "y": 3.36, "y2": 5.5}]},
     "mark": {"type": "rect", "fill": "#fcfcf4"},
     "encoding": {"x": {"field": "x", "type": "quantitative", "axis": null}, "x2": {"field": "x2"}, "y": {"field": "y", "type": "quantitative", "axis": null}, "y2": {"field": "y2"}}},
    {"data": {"values": [{"x": 1.72, "y": 4.93, "t": "D"}]},
     "mark": {"type": "text", "fontSize": 36, "font": "Liberation Sans", "color": "black", "align": "center", "baseline": "middle"},
     "encoding": {"x": {"field": "x", "type": "quantitative", "axis": null}, "y": {"field": "y", "type": "quantitative", "axis": null}, "text": {"field": "t"}}}
  ],
  "resolve": {"axis": {"x": "independent", "y": "independent"}}
}
],
"spacing": 0,
"bounds": "flush"
}
